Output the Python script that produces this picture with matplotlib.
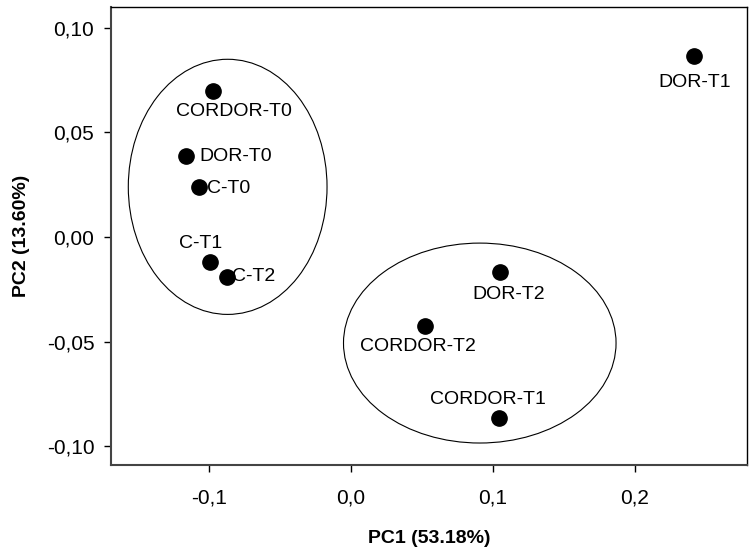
import matplotlib.pyplot as plt
from matplotlib.patches import Ellipse
from matplotlib.ticker import FuncFormatter

# sample scores
names = ['CORDOR-T0', 'DOR-T0', 'C-T0', 'C-T1', 'C-T2',
         'DOR-T1', 'DOR-T2', 'CORDOR-T2', 'CORDOR-T1']
pc1 = [-0.097, -0.116, -0.107, -0.099, -0.087, 0.242, 0.105, 0.052, 0.104]
pc2 = [0.070, 0.0386, 0.0238, -0.012, -0.019, 0.0867, -0.0167, -0.0424, -0.0867]

# label offsets (pixels, up is positive) and alignment
offs = {'CORDOR-T0': (21, -21, 'center'),
        'DOR-T0':    (13, 0, 'left'),
        'C-T0':      (8, -1, 'left'),
        'C-T1':      (-10, 19, 'center'),
        'C-T2':      (5, 0, 'left'),
        'DOR-T1':    (0, -27, 'center'),
        'DOR-T2':    (9, -23, 'center'),
        'CORDOR-T2': (-7, -21, 'center'),
        'CORDOR-T1': (-11, 19, 'center')}

# group ellipses: center x, center y, width, height
ell_cx = [-0.0868, 0.0908]
ell_cy = [0.024, -0.0507]
ell_w = [0.140, 0.192]
ell_h = [0.122, 0.0956]

plt.rc('font', family='Liberation Sans')

fig = plt.figure(figsize=(7.56, 5.55), dpi=100)
ax = fig.add_axes([0.1468, 0.1622, 0.988 - 0.1468, 0.9874 - 0.1622])

for cx, cy, w, h in zip(ell_cx, ell_cy, ell_w, ell_h):
    ax.add_patch(Ellipse((cx, cy), w, h, fill=False, edgecolor='black', linewidth=0.8))

ax.plot(pc1, pc2, 'o', color='black', markersize=11, linestyle='None')

for n, x, y in zip(names, pc1, pc2):
    dx, dy, ha = offs[n]
    ax.annotate(n, (x, y), xytext=(dx, dy), textcoords='offset pixels',
                ha=ha, va='center', fontsize=14)

ax.set_xlim(-0.169, 0.279)
ax.set_ylim(-0.109, 0.11)
ax.set_xticks([-0.1, 0.0, 0.1, 0.2])
ax.set_yticks([-0.10, -0.05, 0.0, 0.05, 0.10])
ax.xaxis.set_major_formatter(FuncFormatter(lambda v, p: ('%.1f' % v).replace('.', ',').replace('-0,0', '0,0')))
ax.yaxis.set_major_formatter(FuncFormatter(lambda v, p: ('%.2f' % v).replace('.', ',').replace('-0,00', '0,00')))
ax.tick_params(axis='both', direction='out', length=5, width=1, labelsize=15)
ax.tick_params(axis='x', pad=12)
ax.tick_params(axis='y', pad=7)

for s in ax.spines.values():
    s.set_linewidth(1.0)
ax.spines['left'].set_color('#444444')
ax.spines['bottom'].set_color('#444444')
ax.spines['left'].set_linewidth(1.5)
ax.spines['bottom'].set_linewidth(1.5)

ax.set_xlabel('PC1 (53.18%)', fontsize=14, fontweight='bold', labelpad=16)
ax.set_ylabel('PC2 (13.60%)', fontsize=14, fontweight='bold', labelpad=12)

fig.savefig('out.png', dpi=100)
